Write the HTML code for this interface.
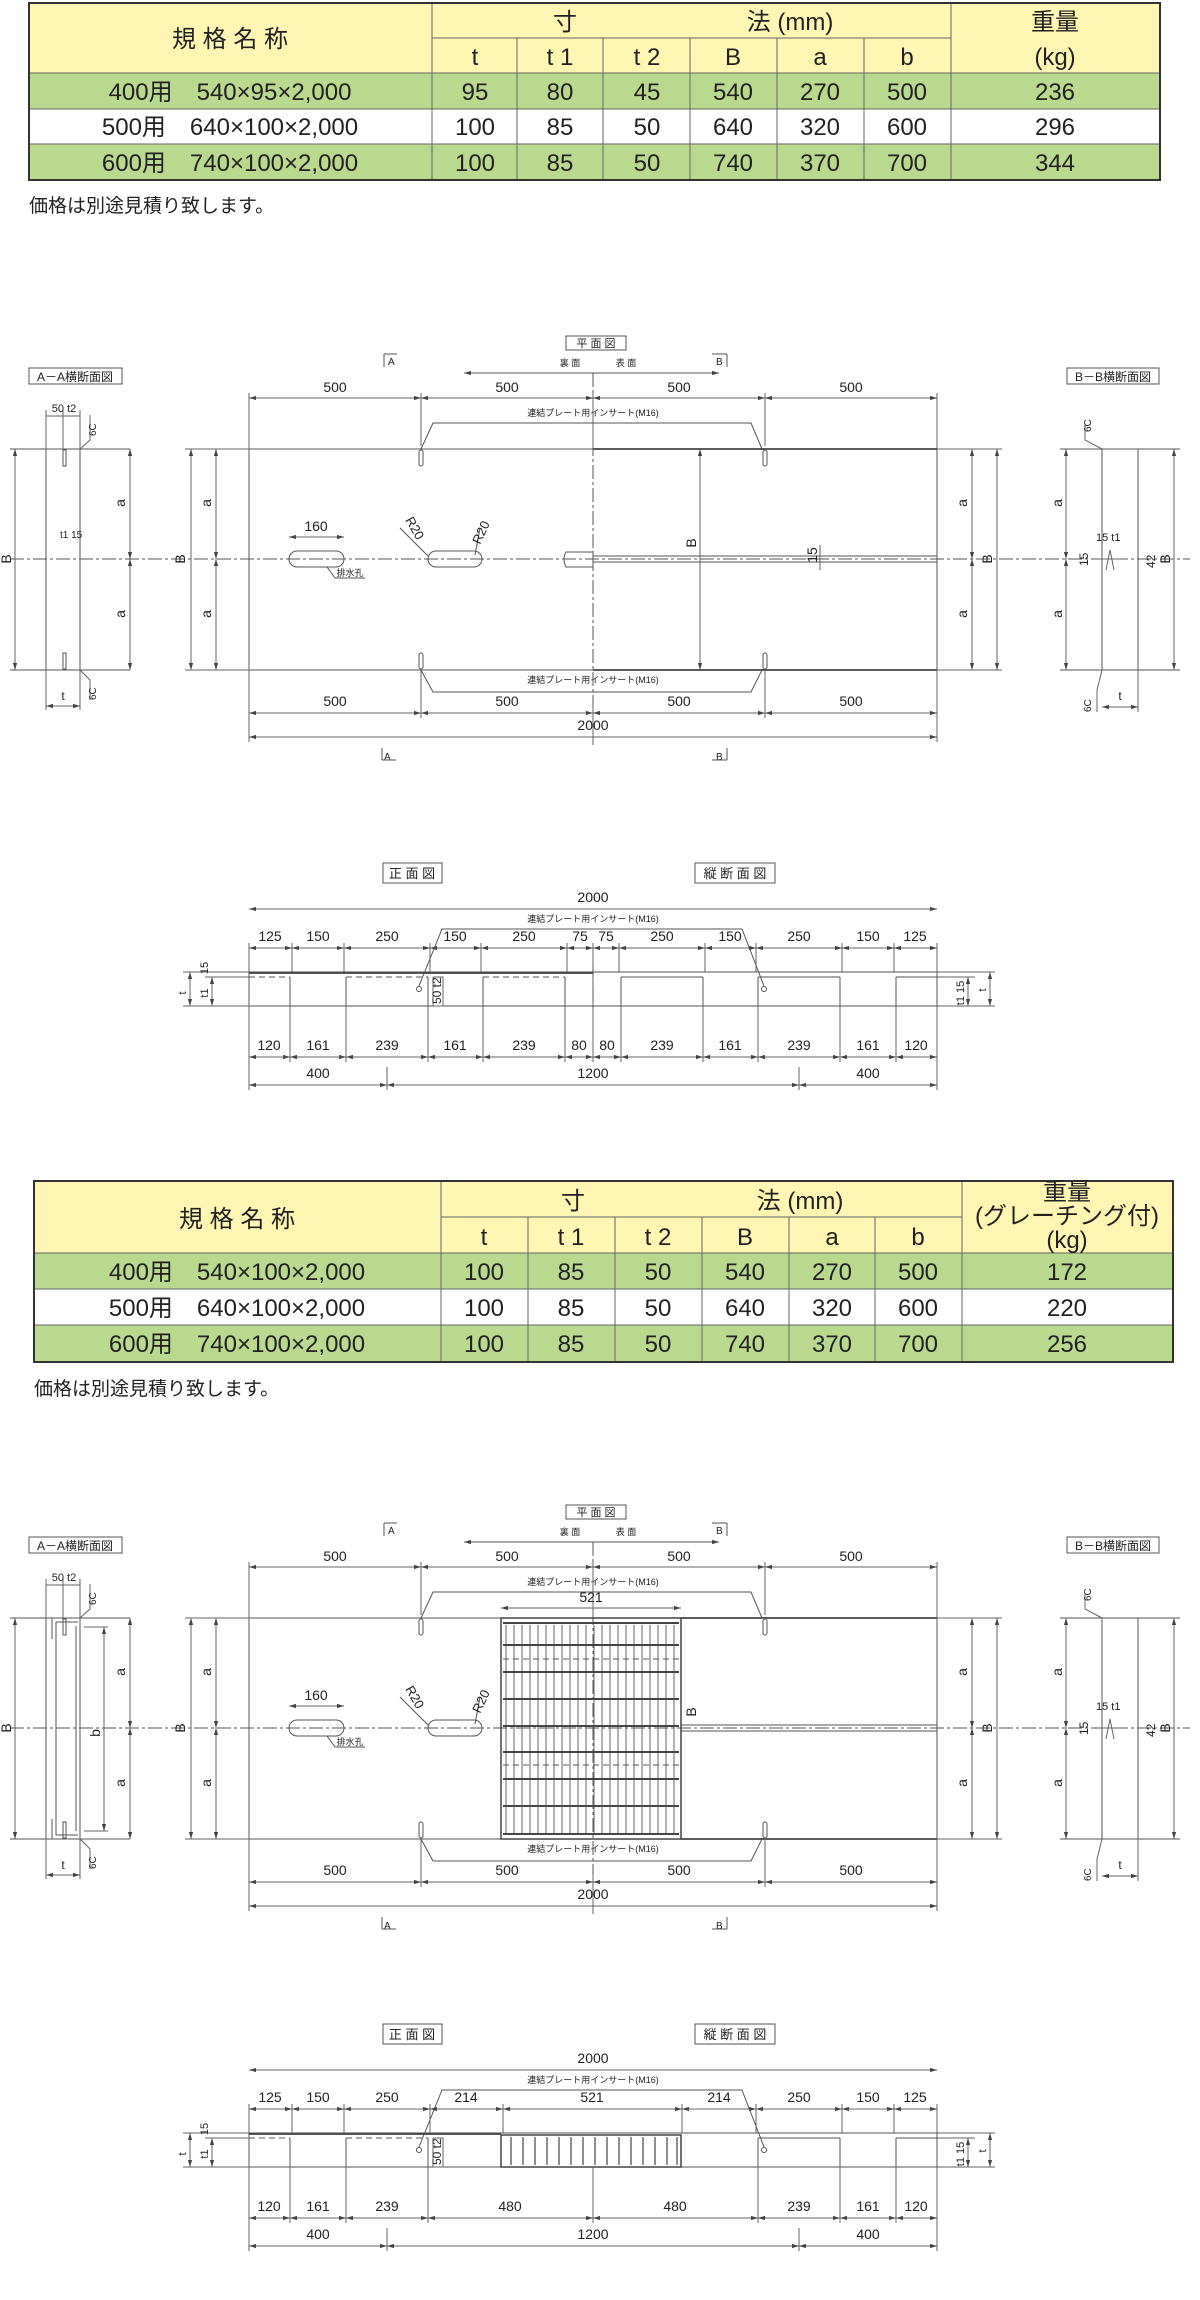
<!DOCTYPE html>
<html><head><meta charset="utf-8"><style>
html,body{margin:0;padding:0;background:#fff;}
svg{display:block;}
text{font-family:"Liberation Sans","Noto Sans CJK JP",sans-serif;fill:#222;}
.l{stroke:#555;stroke-width:1;fill:none;}
.t{stroke:#444;stroke-width:1.8;fill:none;}
.d{stroke:#666;stroke-width:1;fill:none;}
.cl{stroke:#555;stroke-width:1;fill:none;stroke-dasharray:14 3 3 3;}
.dash{stroke:#555;stroke-width:1;fill:none;stroke-dasharray:6 4;}
.dm{font-size:14px;text-anchor:middle;}
.sm{font-size:9px;text-anchor:middle;}
.tb{font-size:24px;text-anchor:middle;fill:#222;}
.g{fill:#b9d98f;} .y{fill:#fff6b3;}
.tbl line{stroke:#666;stroke-width:1;}
</style></head><body>
<svg width="1200" height="2300" viewBox="0 0 1200 2300" xmlns="http://www.w3.org/2000/svg">
<defs>
<marker id="a" viewBox="0 0 10 10" refX="10" refY="5" markerWidth="7" markerHeight="7" orient="auto-start-reverse"><path d="M0,2 L10,5 L0,8 z" fill="#444"/></marker>
</defs>

<!-- ============ TABLE 1 ============ -->
<g class="tbl">
<rect x="29" y="3" width="1131" height="70" class="y"/>
<rect x="29" y="73" width="1131" height="36" class="g"/>
<rect x="29" y="109" width="1131" height="35" fill="#fff"/>
<rect x="29" y="144" width="1131" height="36" class="g"/>
<line x1="432" y1="38" x2="951" y2="38"/>
<line x1="29" y1="73" x2="1160" y2="73"/><line x1="29" y1="109" x2="1160" y2="109"/><line x1="29" y1="144" x2="1160" y2="144"/>
<line x1="432" y1="3" x2="432" y2="180"/><line x1="951" y1="3" x2="951" y2="180"/>
<line x1="517" y1="38" x2="517" y2="180"/><line x1="603" y1="38" x2="603" y2="180"/><line x1="690" y1="38" x2="690" y2="180"/><line x1="777" y1="38" x2="777" y2="180"/><line x1="864" y1="38" x2="864" y2="180"/>
<rect x="29" y="3" width="1131" height="177" fill="none" stroke="#333" stroke-width="2"/>
</g>
<text class="tb" x="230" y="47">規 格 名 称</text>
<text class="tb" x="565" y="30">寸</text><text class="tb" x="790" y="30">法 (mm)</text>
<text class="tb" x="1055" y="30">重量</text><text class="tb" x="1055" y="65">(kg)</text>
<text class="tb" x="475" y="65">t</text><text class="tb" x="560" y="65">t 1</text><text class="tb" x="647" y="65">t 2</text><text class="tb" x="733" y="65">B</text><text class="tb" x="820" y="65">a</text><text class="tb" x="907" y="65">b</text>
<text class="tb" x="230" y="100">400用　540×95×2,000</text>
<text class="tb" x="475" y="100">95</text><text class="tb" x="560" y="100">80</text><text class="tb" x="647" y="100">45</text><text class="tb" x="733" y="100">540</text><text class="tb" x="820" y="100">270</text><text class="tb" x="907" y="100">500</text><text class="tb" x="1055" y="100">236</text>
<text class="tb" x="230" y="135">500用　640×100×2,000</text>
<text class="tb" x="475" y="135">100</text><text class="tb" x="560" y="135">85</text><text class="tb" x="647" y="135">50</text><text class="tb" x="733" y="135">640</text><text class="tb" x="820" y="135">320</text><text class="tb" x="907" y="135">600</text><text class="tb" x="1055" y="135">296</text>
<text class="tb" x="230" y="171">600用　740×100×2,000</text>
<text class="tb" x="475" y="171">100</text><text class="tb" x="560" y="171">85</text><text class="tb" x="647" y="171">50</text><text class="tb" x="733" y="171">740</text><text class="tb" x="820" y="171">370</text><text class="tb" x="907" y="171">700</text><text class="tb" x="1055" y="171">344</text>
<text x="29" y="212" font-size="19">価格は別途見積り致します。</text>

<!-- ============ PLAN 1 ============ -->
<g id="plan1">
<rect x="566" y="336" width="60" height="14" class="l"/><text x="596" y="347" font-size="11" text-anchor="middle">平 面 図</text>
<text x="388" y="365" font-size="10">A</text><path class="l" d="M384,354 V367 M384,354 H397"/>
<text x="716" y="365" font-size="10">B</text><path class="l" d="M727,354 V367 M727,354 H712"/>
<text x="384" y="760" font-size="10">A</text><path class="l" d="M382,748 V760 M382,760 H396"/>
<text x="716" y="760" font-size="10">B</text><path class="l" d="M727,748 V760 M727,760 H712"/>
<text x="570" y="366" class="sm">裏 面</text><text x="626" y="366" class="sm">表 面</text>
<line x1="464" y1="373" x2="719" y2="373" class="l" marker-start="url(#a)" marker-end="url(#a)"/>
<line x1="593" y1="373" x2="593" y2="745" class="cl"/>
<!-- top dims -->
<path class="d" d="M249,393 V449 M421,393 V446 M593,393 V449 M765,393 V446 M937,393 V449"/>
<line x1="249" y1="398" x2="421" y2="398" class="d" marker-start="url(#a)" marker-end="url(#a)"/>
<line x1="421" y1="398" x2="593" y2="398" class="d" marker-start="url(#a)" marker-end="url(#a)"/>
<line x1="593" y1="398" x2="765" y2="398" class="d" marker-start="url(#a)" marker-end="url(#a)"/>
<line x1="765" y1="398" x2="937" y2="398" class="d" marker-start="url(#a)" marker-end="url(#a)"/>
<text class="dm" x="335" y="392">500</text><text class="dm" x="507" y="392">500</text><text class="dm" x="679" y="392">500</text><text class="dm" x="851" y="392">500</text>
<text class="sm" x="593" y="416">連結プレート用インサート(M16)</text>
<path class="l" d="M421,449 L433,423 H751 L762,449"/>
<text class="sm" x="593" y="683">連結プレート用インサート(M16)</text>
<path class="l" d="M421,670 L433,692 H751 L762,670"/>
<!-- body -->
<rect x="249" y="449" width="688" height="221" class="l"/>
<path class="t" d="M593,449 H937 M593,670 H937"/>
<rect x="419" y="450" width="4" height="16" rx="2" class="l"/><rect x="763" y="450" width="4" height="16" rx="2" class="l"/>
<rect x="419" y="653" width="4" height="16" rx="2" class="l"/><rect x="763" y="653" width="4" height="16" rx="2" class="l"/>
<line x1="10" y1="559" x2="1190" y2="559" class="cl"/>
<path class="l" d="M593,556 H937 M593,562 H937"/>
<!-- left dims -->
<path class="d" d="M185,449 H249 M185,670 H249"/>
<line x1="191" y1="449" x2="191" y2="670" class="d" marker-start="url(#a)" marker-end="url(#a)"/>
<line x1="216" y1="449" x2="216" y2="559" class="d" marker-start="url(#a)" marker-end="url(#a)"/>
<line x1="216" y1="559" x2="216" y2="670" class="d" marker-start="url(#a)" marker-end="url(#a)"/>
<text transform="translate(185,559) rotate(-90)" class="dm" font-size="12">B</text>
<text transform="translate(211,503) rotate(-90)" class="dm" font-size="12">a</text>
<text transform="translate(211,614) rotate(-90)" class="dm" font-size="12">a</text>
<!-- right dims -->
<path class="d" d="M937,449 H1002 M937,670 H1002"/>
<line x1="972" y1="449" x2="972" y2="559" class="d" marker-start="url(#a)" marker-end="url(#a)"/>
<line x1="972" y1="559" x2="972" y2="670" class="d" marker-start="url(#a)" marker-end="url(#a)"/>
<line x1="997" y1="449" x2="997" y2="670" class="d" marker-start="url(#a)" marker-end="url(#a)"/>
<text transform="translate(967,503) rotate(-90)" class="dm" font-size="12">a</text>
<text transform="translate(967,614) rotate(-90)" class="dm" font-size="12">a</text>
<text transform="translate(992,559) rotate(-90)" class="dm" font-size="12">B</text>
<!-- inner B -->
<line x1="700" y1="449" x2="700" y2="670" class="d" marker-start="url(#a)" marker-end="url(#a)"/>
<text transform="translate(696,543) rotate(-90)" class="dm" font-size="12">B</text>
<text transform="translate(817,555) rotate(-90)" class="dm" font-size="12">15</text>
<line x1="820" y1="545" x2="820" y2="570" class="d"/>
<!-- holes -->
<rect x="289" y="551" width="55" height="16" rx="8" class="l"/>
<line x1="289" y1="537" x2="344" y2="537" class="d" marker-start="url(#a)" marker-end="url(#a)"/>
<text class="dm" x="316" y="531">160</text>
<path class="l" d="M327,567 L335,578 H365"/><text class="sm" x="350" y="576">排水孔</text>
<rect x="428" y="551" width="54" height="16" rx="8" class="l"/>
<path class="l" d="M566,552 Q562,559 566,567 H593 V552 Z"/>
<path class="l" d="M400,528 L428,556 M480,528 L475,555"/>
<text transform="translate(405,520) rotate(60)" font-size="13">R20</text>
<text transform="translate(480,545) rotate(-65)" font-size="13">R20</text>
<!-- bottom dims -->
<path class="d" d="M249,670 V742 M421,670 V718 M593,745 V705 M765,670 V718 M937,670 V742"/>
<line x1="249" y1="713" x2="421" y2="713" class="d" marker-start="url(#a)" marker-end="url(#a)"/>
<line x1="421" y1="713" x2="593" y2="713" class="d" marker-start="url(#a)" marker-end="url(#a)"/>
<line x1="593" y1="713" x2="765" y2="713" class="d" marker-start="url(#a)" marker-end="url(#a)"/>
<line x1="765" y1="713" x2="937" y2="713" class="d" marker-start="url(#a)" marker-end="url(#a)"/>
<text class="dm" x="335" y="706">500</text><text class="dm" x="507" y="706">500</text><text class="dm" x="679" y="706">500</text><text class="dm" x="851" y="706">500</text>
<line x1="249" y1="737" x2="937" y2="737" class="d" marker-start="url(#a)" marker-end="url(#a)"/>
<text class="dm" x="593" y="730">2000</text>
<!-- A-A section -->
<rect x="29" y="368" width="93" height="16" class="l"/><text x="75" y="381" font-size="12" text-anchor="middle">A－A横断面図</text>
<path class="l" d="M10,449 H130 M10,670 H130 M46,449 V670 M80,449 V670"/>
<line x1="15" y1="449" x2="15" y2="670" class="d" marker-start="url(#a)" marker-end="url(#a)"/>
<line x1="130" y1="449" x2="130" y2="559" class="d" marker-start="url(#a)" marker-end="url(#a)"/>
<line x1="130" y1="559" x2="130" y2="670" class="d" marker-start="url(#a)" marker-end="url(#a)"/>
<text transform="translate(11,559) rotate(-90)" class="dm" font-size="12">B</text>
<text transform="translate(125,503) rotate(-90)" class="dm" font-size="12">a</text>
<text transform="translate(125,614) rotate(-90)" class="dm" font-size="12">a</text>
<rect x="63" y="450" width="3" height="16" class="l"/><rect x="63" y="653" width="3" height="16" class="l"/>
<path class="d" d="M46,410 V449 M80,410 V449 M63,410 V449 M46,416 H80"/>
<text x="64" y="412" font-size="11" text-anchor="middle">50 t2</text>
<path class="d" d="M90,415 V440 L80,449 M80,670 L90,680 V700"/>
<text transform="translate(96,436) rotate(-90)" font-size="10">6C</text>
<text transform="translate(96,700) rotate(-90)" font-size="10">6C</text>
<path class="d" d="M46,670 V710 M80,670 V710"/><line x1="46" y1="706" x2="80" y2="706" class="d" marker-start="url(#a)" marker-end="url(#a)"/>
<text x="63" y="700" font-size="12" text-anchor="middle">t</text>
<text x="60" y="538" font-size="10">t1 15</text>
<!-- B-B section -->
<rect x="1067" y="368" width="92" height="16" class="l"/><text x="1113" y="381" font-size="12" text-anchor="middle">B－B横断面図</text>
<path class="l" d="M1060,449 H1180 M1060,670 H1180 M1102,449 V670 M1138,449 V670"/>
<line x1="1066" y1="449" x2="1066" y2="559" class="d" marker-start="url(#a)" marker-end="url(#a)"/>
<line x1="1066" y1="559" x2="1066" y2="670" class="d" marker-start="url(#a)" marker-end="url(#a)"/>
<line x1="1174" y1="449" x2="1174" y2="670" class="d" marker-start="url(#a)" marker-end="url(#a)"/>
<text transform="translate(1062,503) rotate(-90)" class="dm" font-size="12">a</text>
<text transform="translate(1062,614) rotate(-90)" class="dm" font-size="12">a</text>
<text transform="translate(1170,559) rotate(-90)" class="dm" font-size="12">B</text>
<text transform="translate(1088,566) rotate(-90)" font-size="12">15</text>
<text transform="translate(1155,568) rotate(-90)" font-size="12">42</text>
<text x="1096" y="541" font-size="11">15 t1</text>
<path class="d" d="M1110,550 L1106,570 M1110,550 L1114,570 M1098,559 H1120"/>
<path class="d" d="M1085,425 V440 L1102,449 M1102,670 L1097,690 V712"/>
<text transform="translate(1091,432) rotate(-90)" font-size="10">6C</text>
<text transform="translate(1091,712) rotate(-90)" font-size="10">6C</text>
<path class="d" d="M1138,670 V712"/><line x1="1102" y1="707" x2="1138" y2="707" class="d" marker-start="url(#a)" marker-end="url(#a)"/>
<text x="1120" y="700" font-size="12" text-anchor="middle">t</text>
</g>

<!-- ============ FRONT 1 ============ -->
<g>
<rect x="383" y="863" width="59" height="20" class="l"/><text x="412" y="878" font-size="13" text-anchor="middle">正 面 図</text>
<rect x="695" y="863" width="80" height="20" class="l"/><text x="735" y="878" font-size="13" text-anchor="middle">縦 断 面 図</text>
<line x1="249" y1="909" x2="937" y2="909" class="d" marker-start="url(#a)" marker-end="url(#a)"/>
<text class="dm" x="593" y="902">2000</text>
<text class="sm" x="593" y="922">連結プレート用インサート(M16)</text>
<path class="l" d="M419,986 L442,929 H742 L764,986"/>
<circle cx="419" cy="989" r="2.5" class="l"/><circle cx="764" cy="989" r="2.5" class="l"/>
<path class="d" d="M249,943 V1062 M292,943 V972 M344,943 V972 M430,943 V972 M481,943 V972 M567,943 V972 M593,943 V1062 M619,943 V972 M705,943 V972 M756,943 V972 M842,943 V972 M894,943 V972 M937,943 V1090"/>
<line x1="249" y1="948" x2="292" y2="948" class="d" marker-start="url(#a)" marker-end="url(#a)"/>
<line x1="292" y1="948" x2="344" y2="948" class="d" marker-start="url(#a)" marker-end="url(#a)"/>
<line x1="344" y1="948" x2="430" y2="948" class="d" marker-start="url(#a)" marker-end="url(#a)"/>
<line x1="430" y1="948" x2="481" y2="948" class="d" marker-start="url(#a)" marker-end="url(#a)"/>
<line x1="481" y1="948" x2="567" y2="948" class="d" marker-start="url(#a)" marker-end="url(#a)"/>
<line x1="567" y1="948" x2="593" y2="948" class="d" marker-start="url(#a)" marker-end="url(#a)"/>
<line x1="593" y1="948" x2="619" y2="948" class="d" marker-start="url(#a)" marker-end="url(#a)"/>
<line x1="619" y1="948" x2="705" y2="948" class="d" marker-start="url(#a)" marker-end="url(#a)"/>
<line x1="705" y1="948" x2="756" y2="948" class="d" marker-start="url(#a)" marker-end="url(#a)"/>
<line x1="756" y1="948" x2="842" y2="948" class="d" marker-start="url(#a)" marker-end="url(#a)"/>
<line x1="842" y1="948" x2="894" y2="948" class="d" marker-start="url(#a)" marker-end="url(#a)"/>
<line x1="894" y1="948" x2="937" y2="948" class="d" marker-start="url(#a)" marker-end="url(#a)"/>
<text class="dm" x="270" y="941">125</text><text class="dm" x="318" y="941">150</text><text class="dm" x="387" y="941">250</text><text class="dm" x="455" y="941">150</text><text class="dm" x="524" y="941">250</text><text class="dm" x="580" y="941">75</text><text class="dm" x="606" y="941">75</text><text class="dm" x="662" y="941">250</text><text class="dm" x="730" y="941">150</text><text class="dm" x="799" y="941">250</text><text class="dm" x="868" y="941">150</text><text class="dm" x="915" y="941">125</text>
<!-- body -->
<path class="l" d="M249,972 H937 M249,1006 H937 M249,972 V1006 M937,972 V1006"/>
<path class="t" d="M249,973 H593"/>
<path class="dash" d="M249,977 H290 M346,977 H428 M483,977 H565"/>
<path class="l" d="M621,977 H703 M758,977 H840 M896,977 H937"/>
<path class="l" d="M290,977 V1006 M346,977 V1006 M428,977 V1006 M483,977 V1006 M565,977 V1006 M621,977 V1006 M703,977 V1006 M758,977 V1006 M840,977 V1006 M896,977 V1006"/>
<line x1="593" y1="965" x2="593" y2="1010" class="cl"/>
<path class="d" d="M433,977 V1006 M433,977 H443 V1006 H433"/>
<text transform="translate(441,1004) rotate(-90)" font-size="12">50 t2</text>
<path class="d" d="M183,972 H249 M183,1006 H249 M205,977 H249 M937,972 H995 M937,1006 H995 M937,977 H975"/>
<line x1="190" y1="972" x2="190" y2="1006" class="d" marker-start="url(#a)" marker-end="url(#a)"/>
<line x1="212" y1="977" x2="212" y2="1006" class="d" marker-start="url(#a)" marker-end="url(#a)"/>
<text transform="translate(186,993) rotate(-90)" font-size="11" text-anchor="middle">t</text>
<text transform="translate(208,993) rotate(-90)" font-size="11" text-anchor="middle">t1</text>
<text transform="translate(208,968) rotate(-90)" font-size="11" text-anchor="middle">15</text>
<line x1="990" y1="972" x2="990" y2="1006" class="d" marker-start="url(#a)" marker-end="url(#a)"/>
<line x1="968" y1="977" x2="968" y2="1006" class="d" marker-start="url(#a)" marker-end="url(#a)"/>
<text transform="translate(986,990) rotate(-90)" font-size="11" text-anchor="middle">t</text>
<text transform="translate(964,993) rotate(-90)" font-size="11" text-anchor="middle">t1 15</text>
<!-- bottom dims -->
<path class="d" d="M290,1006 V1062 M346,1006 V1062 M428,1006 V1062 M483,1006 V1062 M565,1006 V1062 M621,1006 V1062 M703,1006 V1062 M758,1006 V1062 M840,1006 V1062 M896,1006 V1062 M249,1062 V1090 M387,1067 V1090 M799,1067 V1090"/>
<line x1="249" y1="1057" x2="290" y2="1057" class="d" marker-start="url(#a)" marker-end="url(#a)"/>
<line x1="290" y1="1057" x2="346" y2="1057" class="d" marker-start="url(#a)" marker-end="url(#a)"/>
<line x1="346" y1="1057" x2="428" y2="1057" class="d" marker-start="url(#a)" marker-end="url(#a)"/>
<line x1="428" y1="1057" x2="483" y2="1057" class="d" marker-start="url(#a)" marker-end="url(#a)"/>
<line x1="483" y1="1057" x2="565" y2="1057" class="d" marker-start="url(#a)" marker-end="url(#a)"/>
<line x1="565" y1="1057" x2="593" y2="1057" class="d" marker-start="url(#a)" marker-end="url(#a)"/>
<line x1="593" y1="1057" x2="621" y2="1057" class="d" marker-start="url(#a)" marker-end="url(#a)"/>
<line x1="621" y1="1057" x2="703" y2="1057" class="d" marker-start="url(#a)" marker-end="url(#a)"/>
<line x1="703" y1="1057" x2="758" y2="1057" class="d" marker-start="url(#a)" marker-end="url(#a)"/>
<line x1="758" y1="1057" x2="840" y2="1057" class="d" marker-start="url(#a)" marker-end="url(#a)"/>
<line x1="840" y1="1057" x2="896" y2="1057" class="d" marker-start="url(#a)" marker-end="url(#a)"/>
<line x1="896" y1="1057" x2="937" y2="1057" class="d" marker-start="url(#a)" marker-end="url(#a)"/>
<text class="dm" x="269" y="1050">120</text><text class="dm" x="318" y="1050">161</text><text class="dm" x="387" y="1050">239</text><text class="dm" x="455" y="1050">161</text><text class="dm" x="524" y="1050">239</text><text class="dm" x="579" y="1050">80</text><text class="dm" x="607" y="1050">80</text><text class="dm" x="662" y="1050">239</text><text class="dm" x="730" y="1050">161</text><text class="dm" x="799" y="1050">239</text><text class="dm" x="868" y="1050">161</text><text class="dm" x="916" y="1050">120</text>
<line x1="249" y1="1085" x2="387" y2="1085" class="d" marker-start="url(#a)" marker-end="url(#a)"/>
<line x1="387" y1="1085" x2="799" y2="1085" class="d" marker-start="url(#a)" marker-end="url(#a)"/>
<line x1="799" y1="1085" x2="937" y2="1085" class="d" marker-start="url(#a)" marker-end="url(#a)"/>
<text class="dm" x="318" y="1078">400</text><text class="dm" x="593" y="1078">1200</text><text class="dm" x="868" y="1078">400</text>
</g>

<!-- ============ TABLE 2 ============ -->
<g class="tbl">
<rect x="34" y="1181" width="1139" height="72" class="y"/>
<rect x="34" y="1253" width="1139" height="36" class="g"/>
<rect x="34" y="1289" width="1139" height="36" fill="#fff"/>
<rect x="34" y="1325" width="1139" height="37" class="g"/>
<line x1="441" y1="1217" x2="962" y2="1217"/>
<line x1="34" y1="1253" x2="1173" y2="1253"/><line x1="34" y1="1289" x2="1173" y2="1289"/><line x1="34" y1="1325" x2="1173" y2="1325"/>
<line x1="441" y1="1181" x2="441" y2="1362"/><line x1="962" y1="1181" x2="962" y2="1362"/>
<line x1="528" y1="1217" x2="528" y2="1362"/><line x1="615" y1="1217" x2="615" y2="1362"/><line x1="702" y1="1217" x2="702" y2="1362"/><line x1="789" y1="1217" x2="789" y2="1362"/><line x1="875" y1="1217" x2="875" y2="1362"/>
<rect x="34" y="1181" width="1139" height="181" fill="none" stroke="#333" stroke-width="2"/>
</g>
<text class="tb" x="237" y="1227">規 格 名 称</text>
<text class="tb" x="573" y="1209">寸</text><text class="tb" x="800" y="1209">法 (mm)</text>
<text class="tb" x="1067" y="1200" font-size="20">重量</text><text class="tb" x="1067" y="1224" font-size="18">(グレーチング付)</text><text class="tb" x="1067" y="1248" font-size="20">(kg)</text>
<text class="tb" x="484" y="1245">t</text><text class="tb" x="571" y="1245">t 1</text><text class="tb" x="658" y="1245">t 2</text><text class="tb" x="745" y="1245">B</text><text class="tb" x="832" y="1245">a</text><text class="tb" x="918" y="1245">b</text>
<text class="tb" x="237" y="1280">400用　540×100×2,000</text>
<text class="tb" x="484" y="1280">100</text><text class="tb" x="571" y="1280">85</text><text class="tb" x="658" y="1280">50</text><text class="tb" x="745" y="1280">540</text><text class="tb" x="832" y="1280">270</text><text class="tb" x="918" y="1280">500</text><text class="tb" x="1067" y="1280">172</text>
<text class="tb" x="237" y="1316">500用　640×100×2,000</text>
<text class="tb" x="484" y="1316">100</text><text class="tb" x="571" y="1316">85</text><text class="tb" x="658" y="1316">50</text><text class="tb" x="745" y="1316">640</text><text class="tb" x="832" y="1316">320</text><text class="tb" x="918" y="1316">600</text><text class="tb" x="1067" y="1316">220</text>
<text class="tb" x="237" y="1352">600用　740×100×2,000</text>
<text class="tb" x="484" y="1352">100</text><text class="tb" x="571" y="1352">85</text><text class="tb" x="658" y="1352">50</text><text class="tb" x="745" y="1352">740</text><text class="tb" x="832" y="1352">370</text><text class="tb" x="918" y="1352">700</text><text class="tb" x="1067" y="1352">256</text>
<text x="34" y="1395" font-size="19">価格は別途見積り致します。</text>

<!-- ============ PLAN 2 ============ -->
<g transform="translate(0,1169)">
<rect x="566" y="336" width="60" height="14" class="l"/><text x="596" y="347" font-size="11" text-anchor="middle">平 面 図</text>
<text x="388" y="365" font-size="10">A</text><path class="l" d="M384,354 V367 M384,354 H397"/>
<text x="716" y="365" font-size="10">B</text><path class="l" d="M727,354 V367 M727,354 H712"/>
<text x="384" y="760" font-size="10">A</text><path class="l" d="M382,748 V760 M382,760 H396"/>
<text x="716" y="760" font-size="10">B</text><path class="l" d="M727,748 V760 M727,760 H712"/>
<text x="570" y="366" class="sm">裏 面</text><text x="626" y="366" class="sm">表 面</text>
<line x1="464" y1="373" x2="719" y2="373" class="l" marker-start="url(#a)" marker-end="url(#a)"/>
<line x1="593" y1="373" x2="593" y2="745" class="cl"/>
<path class="d" d="M249,393 V449 M421,393 V446 M593,393 V449 M765,393 V446 M937,393 V449"/>
<line x1="249" y1="398" x2="421" y2="398" class="d" marker-start="url(#a)" marker-end="url(#a)"/>
<line x1="421" y1="398" x2="593" y2="398" class="d" marker-start="url(#a)" marker-end="url(#a)"/>
<line x1="593" y1="398" x2="765" y2="398" class="d" marker-start="url(#a)" marker-end="url(#a)"/>
<line x1="765" y1="398" x2="937" y2="398" class="d" marker-start="url(#a)" marker-end="url(#a)"/>
<text class="dm" x="335" y="392">500</text><text class="dm" x="507" y="392">500</text><text class="dm" x="679" y="392">500</text><text class="dm" x="851" y="392">500</text>
<text class="sm" x="593" y="416">連結プレート用インサート(M16)</text>
<path class="l" d="M421,449 L433,423 H751 L762,449"/>
<text class="sm" x="593" y="683">連結プレート用インサート(M16)</text>
<path class="l" d="M421,670 L433,692 H751 L762,670"/>
<rect x="249" y="449" width="688" height="221" class="l"/>
<path class="t" d="M681,449 H937 M681,670 H937"/>
<rect x="419" y="450" width="4" height="16" rx="2" class="l"/><rect x="763" y="450" width="4" height="16" rx="2" class="l"/>
<rect x="419" y="653" width="4" height="16" rx="2" class="l"/><rect x="763" y="653" width="4" height="16" rx="2" class="l"/>
<line x1="10" y1="559" x2="1190" y2="559" class="cl"/>
<path class="l" d="M681,556 H937 M681,562 H937"/>
<!-- grating -->
<line x1="501" y1="439" x2="681" y2="439" class="d" marker-start="url(#a)" marker-end="url(#a)"/>
<text class="dm" x="591" y="433">521</text>
<rect x="501" y="449" width="180" height="221" fill="none" stroke="#444" stroke-width="1.5"/>
<path stroke="#666" stroke-width="1" fill="none" d="M506,456 V664 M514,456 V664 M522,456 V664 M530,456 V664 M538,456 V664 M546,456 V664 M554,456 V664 M562,456 V664 M570,456 V664 M578,456 V664 M586,456 V664 M594,456 V664 M602,456 V664 M610,456 V664 M618,456 V664 M626,456 V664 M634,456 V664 M642,456 V664 M650,456 V664 M658,456 V664 M666,456 V664 M674,456 V664"/>
<path stroke="#444" stroke-width="2" fill="none" d="M503,454 H679 M503,476 H679 M503,503 H679 M503,530 H679 M503,557 H679 M503,583 H679 M503,610 H679 M503,637 H679 M503,665 H679"/>
<path class="dash" d="M503,490 H679 M503,596 H679"/>
<path class="d" d="M185,449 H249 M185,670 H249"/>
<line x1="191" y1="449" x2="191" y2="670" class="d" marker-start="url(#a)" marker-end="url(#a)"/>
<line x1="216" y1="449" x2="216" y2="559" class="d" marker-start="url(#a)" marker-end="url(#a)"/>
<line x1="216" y1="559" x2="216" y2="670" class="d" marker-start="url(#a)" marker-end="url(#a)"/>
<text transform="translate(185,559) rotate(-90)" class="dm" font-size="12">B</text>
<text transform="translate(211,503) rotate(-90)" class="dm" font-size="12">a</text>
<text transform="translate(211,614) rotate(-90)" class="dm" font-size="12">a</text>
<path class="d" d="M937,449 H1002 M937,670 H1002"/>
<line x1="972" y1="449" x2="972" y2="559" class="d" marker-start="url(#a)" marker-end="url(#a)"/>
<line x1="972" y1="559" x2="972" y2="670" class="d" marker-start="url(#a)" marker-end="url(#a)"/>
<line x1="997" y1="449" x2="997" y2="670" class="d" marker-start="url(#a)" marker-end="url(#a)"/>
<text transform="translate(967,503) rotate(-90)" class="dm" font-size="12">a</text>
<text transform="translate(967,614) rotate(-90)" class="dm" font-size="12">a</text>
<text transform="translate(992,559) rotate(-90)" class="dm" font-size="12">B</text>
<text transform="translate(696,543) rotate(-90)" class="dm" font-size="12">B</text>
<rect x="289" y="551" width="55" height="16" rx="8" class="l"/>
<line x1="289" y1="537" x2="344" y2="537" class="d" marker-start="url(#a)" marker-end="url(#a)"/>
<text class="dm" x="316" y="531">160</text>
<path class="l" d="M327,567 L335,578 H365"/><text class="sm" x="350" y="576">排水孔</text>
<rect x="428" y="551" width="54" height="16" rx="8" class="l"/>
<path class="l" d="M400,528 L428,556 M480,528 L475,555"/>
<text transform="translate(405,520) rotate(60)" font-size="13">R20</text>
<text transform="translate(480,545) rotate(-65)" font-size="13">R20</text>
<path class="d" d="M249,670 V742 M421,670 V718 M593,745 V705 M765,670 V718 M937,670 V742"/>
<line x1="249" y1="713" x2="421" y2="713" class="d" marker-start="url(#a)" marker-end="url(#a)"/>
<line x1="421" y1="713" x2="593" y2="713" class="d" marker-start="url(#a)" marker-end="url(#a)"/>
<line x1="593" y1="713" x2="765" y2="713" class="d" marker-start="url(#a)" marker-end="url(#a)"/>
<line x1="765" y1="713" x2="937" y2="713" class="d" marker-start="url(#a)" marker-end="url(#a)"/>
<text class="dm" x="335" y="706">500</text><text class="dm" x="507" y="706">500</text><text class="dm" x="679" y="706">500</text><text class="dm" x="851" y="706">500</text>
<line x1="249" y1="737" x2="937" y2="737" class="d" marker-start="url(#a)" marker-end="url(#a)"/>
<text class="dm" x="593" y="730">2000</text>
<!-- A-A with grating -->
<rect x="29" y="368" width="93" height="16" class="l"/><text x="75" y="381" font-size="12" text-anchor="middle">A－A横断面図</text>
<path class="l" d="M10,449 H130 M10,670 H130 M46,449 V670 M80,449 V670"/>
<path class="l" d="M56,453 H78 M56,666 H78 M56,453 V666 M52,449 V470 M52,650 V670 M76,457 V662"/>
<path class="d" d="M84,458 H108 M84,662 H108"/>
<line x1="104" y1="458" x2="104" y2="662" class="d" marker-start="url(#a)" marker-end="url(#a)"/>
<text transform="translate(100,564) rotate(-90)" class="dm" font-size="12">b</text>
<line x1="15" y1="449" x2="15" y2="670" class="d" marker-start="url(#a)" marker-end="url(#a)"/>
<line x1="130" y1="449" x2="130" y2="559" class="d" marker-start="url(#a)" marker-end="url(#a)"/>
<line x1="130" y1="559" x2="130" y2="670" class="d" marker-start="url(#a)" marker-end="url(#a)"/>
<text transform="translate(11,559) rotate(-90)" class="dm" font-size="12">B</text>
<text transform="translate(125,503) rotate(-90)" class="dm" font-size="12">a</text>
<text transform="translate(125,614) rotate(-90)" class="dm" font-size="12">a</text>
<rect x="63" y="450" width="3" height="16" class="l"/><rect x="63" y="653" width="3" height="16" class="l"/>
<path class="d" d="M46,410 V449 M80,410 V449 M63,410 V449 M46,416 H80"/>
<text x="64" y="412" font-size="11" text-anchor="middle">50 t2</text>
<path class="d" d="M90,415 V440 L80,449 M80,670 L90,680 V700"/>
<text transform="translate(96,436) rotate(-90)" font-size="10">6C</text>
<text transform="translate(96,700) rotate(-90)" font-size="10">6C</text>
<path class="d" d="M46,670 V710 M80,670 V710"/><line x1="46" y1="706" x2="80" y2="706" class="d" marker-start="url(#a)" marker-end="url(#a)"/>
<text x="63" y="700" font-size="12" text-anchor="middle">t</text>
<rect x="1067" y="368" width="92" height="16" class="l"/><text x="1113" y="381" font-size="12" text-anchor="middle">B－B横断面図</text>
<path class="l" d="M1060,449 H1180 M1060,670 H1180 M1102,449 V670 M1138,449 V670"/>
<line x1="1066" y1="449" x2="1066" y2="559" class="d" marker-start="url(#a)" marker-end="url(#a)"/>
<line x1="1066" y1="559" x2="1066" y2="670" class="d" marker-start="url(#a)" marker-end="url(#a)"/>
<line x1="1174" y1="449" x2="1174" y2="670" class="d" marker-start="url(#a)" marker-end="url(#a)"/>
<text transform="translate(1062,503) rotate(-90)" class="dm" font-size="12">a</text>
<text transform="translate(1062,614) rotate(-90)" class="dm" font-size="12">a</text>
<text transform="translate(1170,559) rotate(-90)" class="dm" font-size="12">B</text>
<text transform="translate(1088,566) rotate(-90)" font-size="12">15</text>
<text transform="translate(1155,568) rotate(-90)" font-size="12">42</text>
<text x="1096" y="541" font-size="11">15 t1</text>
<path class="d" d="M1110,550 L1106,570 M1110,550 L1114,570 M1098,559 H1120"/>
<path class="d" d="M1085,425 V440 L1102,449 M1102,670 L1097,690 V712"/>
<text transform="translate(1091,432) rotate(-90)" font-size="10">6C</text>
<text transform="translate(1091,712) rotate(-90)" font-size="10">6C</text>
<path class="d" d="M1138,670 V712"/><line x1="1102" y1="707" x2="1138" y2="707" class="d" marker-start="url(#a)" marker-end="url(#a)"/>
<text x="1120" y="700" font-size="12" text-anchor="middle">t</text>
</g>

<!-- ============ FRONT 2 ============ -->
<g transform="translate(0,1161)">
<rect x="383" y="863" width="59" height="20" class="l"/><text x="412" y="878" font-size="13" text-anchor="middle">正 面 図</text>
<rect x="695" y="863" width="80" height="20" class="l"/><text x="735" y="878" font-size="13" text-anchor="middle">縦 断 面 図</text>
<line x1="249" y1="909" x2="937" y2="909" class="d" marker-start="url(#a)" marker-end="url(#a)"/>
<text class="dm" x="593" y="902">2000</text>
<text class="sm" x="593" y="922">連結プレート用インサート(M16)</text>
<path class="l" d="M419,986 L442,929 H742 L764,986"/>
<circle cx="419" cy="989" r="2.5" class="l"/><circle cx="764" cy="989" r="2.5" class="l"/>
<path class="d" d="M249,943 V1062 M292,943 V972 M344,943 V972 M430,943 V972 M503,943 V972 M682,943 V972 M756,943 V972 M842,943 V972 M894,943 V972 M937,943 V1090"/>
<line x1="249" y1="948" x2="292" y2="948" class="d" marker-start="url(#a)" marker-end="url(#a)"/>
<line x1="292" y1="948" x2="344" y2="948" class="d" marker-start="url(#a)" marker-end="url(#a)"/>
<line x1="344" y1="948" x2="430" y2="948" class="d" marker-start="url(#a)" marker-end="url(#a)"/>
<line x1="430" y1="948" x2="503" y2="948" class="d" marker-start="url(#a)" marker-end="url(#a)"/>
<line x1="503" y1="948" x2="682" y2="948" class="d" marker-start="url(#a)" marker-end="url(#a)"/>
<line x1="682" y1="948" x2="756" y2="948" class="d" marker-start="url(#a)" marker-end="url(#a)"/>
<line x1="756" y1="948" x2="842" y2="948" class="d" marker-start="url(#a)" marker-end="url(#a)"/>
<line x1="842" y1="948" x2="894" y2="948" class="d" marker-start="url(#a)" marker-end="url(#a)"/>
<line x1="894" y1="948" x2="937" y2="948" class="d" marker-start="url(#a)" marker-end="url(#a)"/>
<text class="dm" x="270" y="941">125</text><text class="dm" x="318" y="941">150</text><text class="dm" x="387" y="941">250</text><text class="dm" x="466" y="941">214</text><text class="dm" x="592" y="941">521</text><text class="dm" x="719" y="941">214</text><text class="dm" x="799" y="941">250</text><text class="dm" x="868" y="941">150</text><text class="dm" x="915" y="941">125</text>
<path class="l" d="M249,972 H937 M249,1006 H937 M249,972 V1006 M937,972 V1006"/>
<path class="t" d="M249,973 H501"/>
<path class="dash" d="M249,977 H290 M346,977 H428"/>
<path class="l" d="M758,977 H840 M896,977 H937"/>
<path class="l" d="M290,977 V1006 M346,977 V1006 M428,977 V1006 M758,977 V1006 M840,977 V1006 M896,977 V1006"/>
<rect x="501" y="974" width="180" height="32" fill="none" stroke="#444" stroke-width="1.5"/>
<path stroke="#555" stroke-width="1.3" fill="none" d="M511,976 V1004 M523,976 V1004 M535,976 V1004 M547,976 V1004 M559,976 V1004 M571,976 V1004 M583,976 V1004 M595,976 V1004 M607,976 V1004 M619,976 V1004 M631,976 V1004 M643,976 V1004 M655,976 V1004 M667,976 V1004 M677,976 V1004"/>
<path class="d" d="M433,977 V1006 M433,977 H443 V1006 H433"/>
<text transform="translate(441,1004) rotate(-90)" font-size="12">50 t2</text>
<path class="d" d="M183,972 H249 M183,1006 H249 M205,977 H249 M937,972 H995 M937,1006 H995 M937,977 H975"/>
<line x1="190" y1="972" x2="190" y2="1006" class="d" marker-start="url(#a)" marker-end="url(#a)"/>
<line x1="212" y1="977" x2="212" y2="1006" class="d" marker-start="url(#a)" marker-end="url(#a)"/>
<text transform="translate(186,993) rotate(-90)" font-size="11" text-anchor="middle">t</text>
<text transform="translate(208,993) rotate(-90)" font-size="11" text-anchor="middle">t1</text>
<text transform="translate(208,968) rotate(-90)" font-size="11" text-anchor="middle">15</text>
<line x1="990" y1="972" x2="990" y2="1006" class="d" marker-start="url(#a)" marker-end="url(#a)"/>
<line x1="968" y1="977" x2="968" y2="1006" class="d" marker-start="url(#a)" marker-end="url(#a)"/>
<text transform="translate(986,990) rotate(-90)" font-size="11" text-anchor="middle">t</text>
<text transform="translate(964,993) rotate(-90)" font-size="11" text-anchor="middle">t1 15</text>
<path class="d" d="M290,1006 V1062 M346,1006 V1062 M428,1006 V1062 M593,1006 V1062 M758,1006 V1062 M840,1006 V1062 M896,1006 V1062 M249,1062 V1090 M387,1067 V1090 M799,1067 V1090"/>
<line x1="249" y1="1057" x2="290" y2="1057" class="d" marker-start="url(#a)" marker-end="url(#a)"/>
<line x1="290" y1="1057" x2="346" y2="1057" class="d" marker-start="url(#a)" marker-end="url(#a)"/>
<line x1="346" y1="1057" x2="428" y2="1057" class="d" marker-start="url(#a)" marker-end="url(#a)"/>
<line x1="428" y1="1057" x2="593" y2="1057" class="d" marker-start="url(#a)" marker-end="url(#a)"/>
<line x1="593" y1="1057" x2="758" y2="1057" class="d" marker-start="url(#a)" marker-end="url(#a)"/>
<line x1="758" y1="1057" x2="840" y2="1057" class="d" marker-start="url(#a)" marker-end="url(#a)"/>
<line x1="840" y1="1057" x2="896" y2="1057" class="d" marker-start="url(#a)" marker-end="url(#a)"/>
<line x1="896" y1="1057" x2="937" y2="1057" class="d" marker-start="url(#a)" marker-end="url(#a)"/>
<text class="dm" x="269" y="1050">120</text><text class="dm" x="318" y="1050">161</text><text class="dm" x="387" y="1050">239</text><text class="dm" x="510" y="1050">480</text><text class="dm" x="675" y="1050">480</text><text class="dm" x="799" y="1050">239</text><text class="dm" x="868" y="1050">161</text><text class="dm" x="916" y="1050">120</text>
<line x1="249" y1="1085" x2="387" y2="1085" class="d" marker-start="url(#a)" marker-end="url(#a)"/>
<line x1="387" y1="1085" x2="799" y2="1085" class="d" marker-start="url(#a)" marker-end="url(#a)"/>
<line x1="799" y1="1085" x2="937" y2="1085" class="d" marker-start="url(#a)" marker-end="url(#a)"/>
<text class="dm" x="318" y="1078">400</text><text class="dm" x="593" y="1078">1200</text><text class="dm" x="868" y="1078">400</text>
</g>
</svg>
</body></html>
